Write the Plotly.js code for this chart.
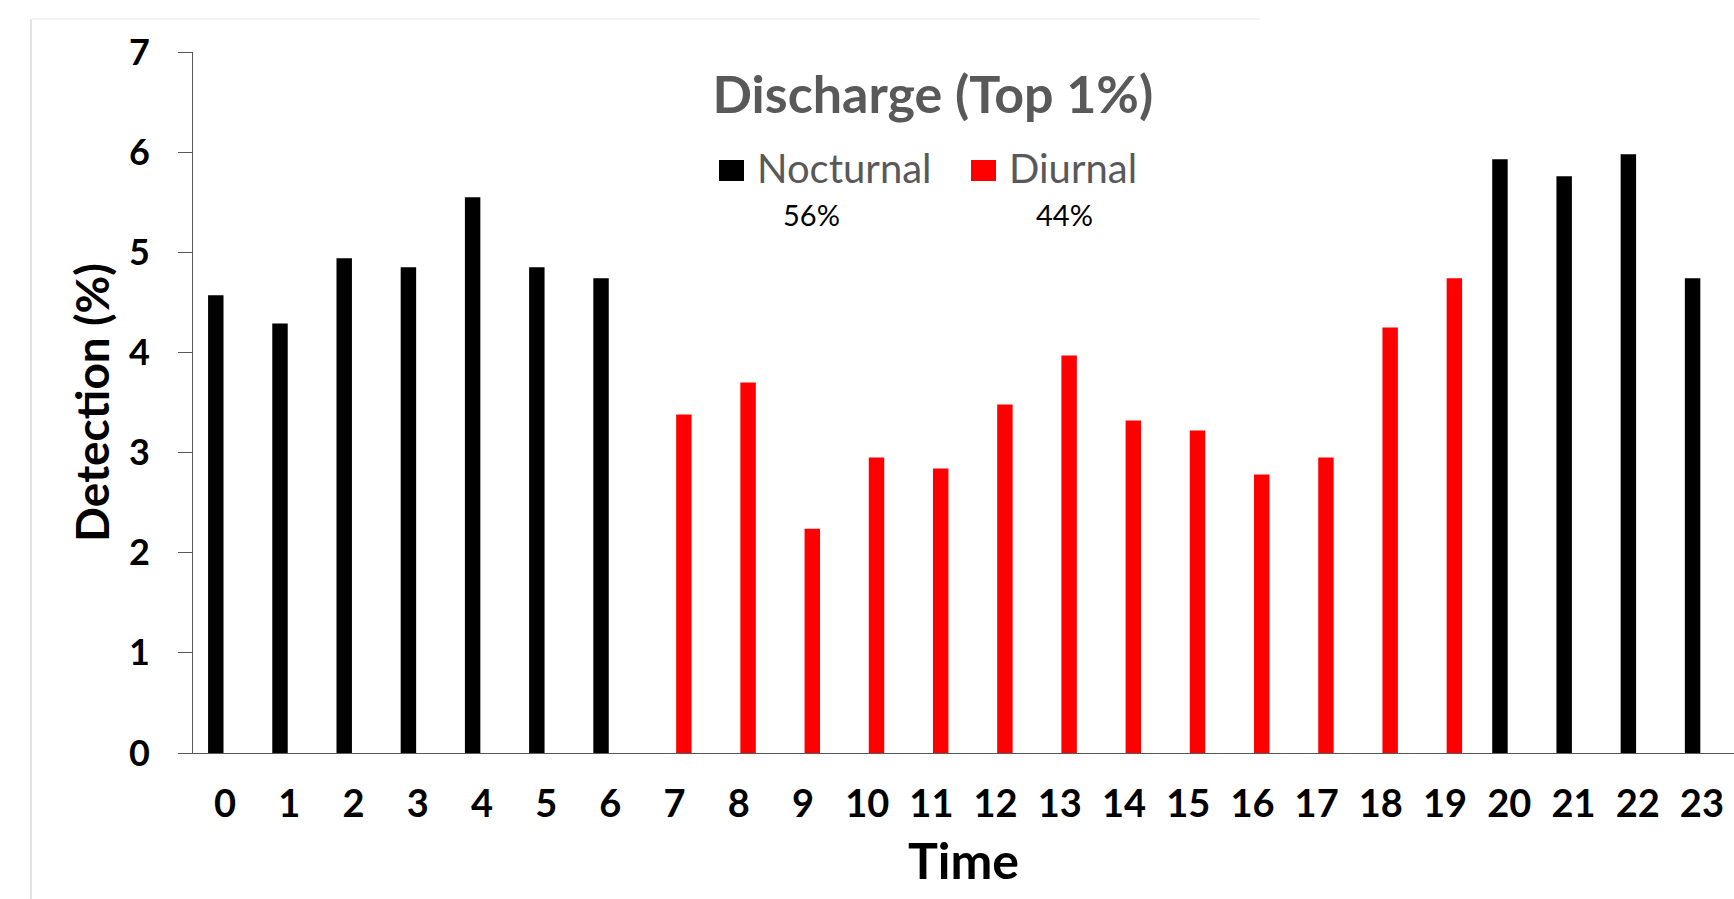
<!DOCTYPE html>
<html>
<head>
<meta charset="utf-8">
<script src="https://cdn.plot.ly/plotly-3.0.1.min.js"></script>
<style>
  html, body { margin: 0; padding: 0; background: #ffffff; }
  #chart { width: 1734px; height: 899px; }
</style>
</head>
<body>
<div id="chart"></div>
<script>
// ---- data ----
const hours = ['0','1','2','3','4','5','6','7','8','9','10','11','12','13','14','15','16','17','18','19','20','21','22','23'];
const nocturnal = [4.57, 4.29, 4.94, 4.85, 5.55, 4.85, 4.74,
  null, null, null, null, null, null, null, null, null, null, null, null, null,
  5.93, 5.76, 5.98, 4.74];
const diurnal = [null, null, null, null, null, null, null,
  3.38, 3.70, 2.24, 2.95, 2.84, 3.48, 3.97, 3.32, 3.22, 2.78, 2.95, 4.25, 4.74,
  null, null, null, null];
const seriesNames = ['Nocturnal', 'Diurnal'];
const seriesShares = ['56%', '44%'];
const seriesColors = ['#000000', '#ff0000'];
const yTicks = [0, 1, 2, 3, 4, 5, 6, 7];
const chartTitle = 'Discharge (Top 1%)';
const xTitle = 'Time';
const yTitle = 'Detection (%)';

const FONT = 'Lato, "Open Sans", sans-serif';
const seriesValues = [nocturnal, diurnal];

// ---- page geometry ----
const W = 1734, H = 899;
const M = { l: 193, r: 0, t: 52, b: 146 };
const PW = W - M.l - M.r, PH = H - M.t - M.b;
const px2x = p => (p - M.l) / PW;          // page px -> paper x
const py2y = p => (H - M.b - p) / PH;      // page px -> paper y

// legend layout (page pixels): swatch left, text left, share-label centre
const legendSwatchLeft = [719, 971];
const legendTextLeft = [755, 1007];
const legendShareCenter = [811, 1064];
const swatchW = 25, swatchTop = 160, swatchBottom = 181;
const legendTextY = 168.5, shareY = 214;

const traces = seriesNames.map((name, i) => ({
  type: 'bar',
  name: name,
  x: hours,
  y: seriesValues[i],
  marker: { color: seriesColors[i], line: { width: 0 } },
  hoverinfo: 'x+y+name'
}));

const legendShapes = seriesNames.map((name, i) => ({
  type: 'rect', xref: 'paper', yref: 'paper',
  x0: px2x(legendSwatchLeft[i]), x1: px2x(legendSwatchLeft[i] + swatchW),
  y0: py2y(swatchBottom), y1: py2y(swatchTop),
  fillcolor: seriesColors[i], line: { width: 0 }
}));
const legendTexts = seriesNames.map((name, i) => ({
  text: name, xref: 'paper', yref: 'paper',
  x: px2x(legendTextLeft[i]), y: py2y(legendTextY),
  xanchor: 'left', yanchor: 'middle', showarrow: false,
  font: { family: FONT, size: 40, color: '#595959' }
}));
const shareTexts = seriesShares.map((s, i) => ({
  text: s, xref: 'paper', yref: 'paper',
  x: px2x(legendShareCenter[i]), y: py2y(shareY),
  xanchor: 'center', yanchor: 'middle', showarrow: false,
  font: { family: FONT, size: 29, color: '#000000' }
}));

const layout = {
  width: W,
  height: H,
  margin: { l: M.l, r: M.r, t: M.t, b: M.b, pad: 0, autoexpand: false },
  paper_bgcolor: '#ffffff',
  plot_bgcolor: '#ffffff',
  barmode: 'group',
  bargap: 0.42,
  bargroupgap: 0.17,
  font: { family: FONT, color: '#000000' },
  title: {
    text: chartTitle,
    font: { family: FONT, size: 52, weight: 'bold', color: '#595959' },
    xref: 'container', x: 0.538, xanchor: 'center',
    yref: 'container', y: 0.895, yanchor: 'middle'
  },
  showlegend: false,
  xaxis: {
    type: 'category',
    range: [-0.5, 23.5],
    showgrid: false,
    zeroline: false,
    showline: true,
    linecolor: '#595959',
    linewidth: 1,
    ticks: '',
    ticklabelstandoff: 17,
    tickfont: { family: FONT, size: 38, weight: 'bold', color: '#000000' },
    title: {
      text: xTitle,
      font: { family: FONT, size: 50, weight: 'bold', color: '#000000' },
      standoff: 20
    },
    automargin: false,
    fixedrange: true
  },
  yaxis: {
    range: [0, 7],
    tickvals: yTicks,
    ticktext: yTicks.map(String),
    showgrid: false,
    zeroline: false,
    showline: true,
    linecolor: '#595959',
    linewidth: 1,
    ticks: 'outside',
    ticklen: 14,
    tickcolor: '#595959',
    ticklabelstandoff: 21,
    tickfont: { family: FONT, size: 36, weight: 'bold', color: '#000000' },
    title: {
      text: yTitle,
      font: { family: FONT, size: 46, weight: 'bold', color: '#000000' },
      standoff: 4
    },
    automargin: false,
    fixedrange: true
  },
  annotations: legendTexts.concat(shareTexts),
  shapes: [
    { type: 'line', xref: 'paper', yref: 'paper', x0: px2x(31), x1: px2x(31), y0: py2y(H), y1: py2y(19),
      line: { color: '#e2e2e2', width: 2 } },
    { type: 'line', xref: 'paper', yref: 'paper', x0: px2x(31), x1: px2x(1260), y0: py2y(19), y1: py2y(19),
      line: { color: '#f2f2f2', width: 2 } }
  ].concat(legendShapes)
};

Plotly.newPlot('chart', traces, layout, { displayModeBar: false, staticPlot: true });
</script>
</body>
</html>
